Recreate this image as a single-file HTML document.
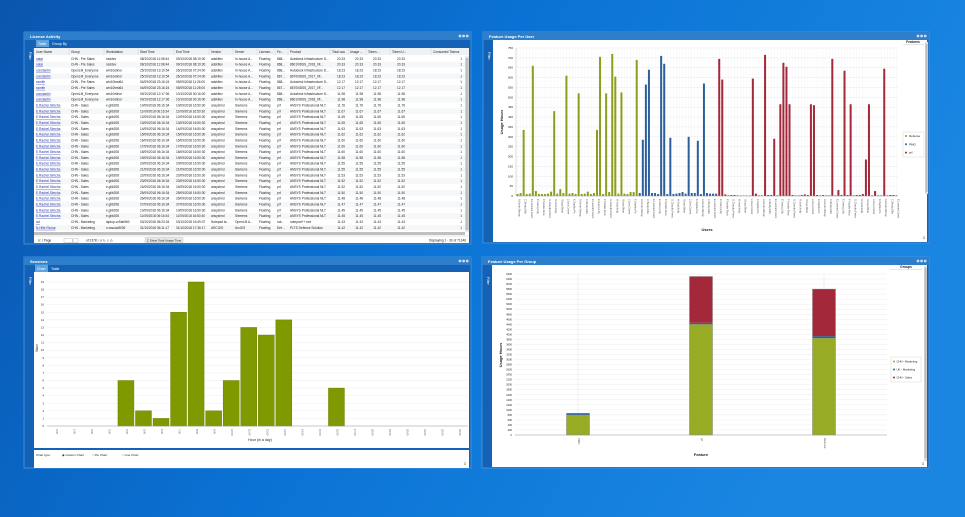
<!DOCTYPE html>
<html><head><meta charset="utf-8"><style>
html,body{margin:0;padding:0;width:965px;height:517px;overflow:hidden;background:#0a6fd0}
svg{display:block}
text{font-family:"Liberation Sans",sans-serif}
</style></head><body>
<svg id="s" xmlns="http://www.w3.org/2000/svg" width="965" height="517" viewBox="0 0 965 517">
<defs>
<linearGradient id="bg" x1="0" y1="0" x2="1" y2="0.3">
<stop offset="0" stop-color="#0a55ae"/><stop offset="0.5" stop-color="#0a72d4"/><stop offset="1" stop-color="#1a86e2"/>
</linearGradient>
</defs>
<rect width="965" height="517" fill="url(#bg)"/>
<g id="g"></g>
</svg>
<script>
const NS='http://www.w3.org/2000/svg';const G=document.getElementById('g');
function e(t,a,txt){const n=document.createElementNS(NS,t);for(const k in a)n.setAttribute(k,a[k]);if(txt!==undefined)n.textContent=txt;G.appendChild(n);return n;}
function R(x,y,w,h,f,extra){return e('rect',Object.assign({x,y,width:w,height:h,fill:f},extra||{}));}
function T(x,y,s,txt,o){return e('text',Object.assign({x,y,'font-size':s,fill:'#222'},o||{}),txt);}
function L(x1,y1,x2,y2,c,w){return e('line',{x1,y1,x2,y2,stroke:c,'stroke-width':w||0.5});}
function panel(x,y,w,h,title){
 R(x,y,w,h,'#1462b6',{stroke:'#4a98dc','stroke-width':0.8});
 R(x,y,w,8,'#2d7fcc');
 T(x+6,y+5.8,4,title,{fill:'#fff','font-weight':'bold'});
 for(let i=0;i<3;i++)e('circle',{cx:x+w-11+i*3.6,cy:y+4,r:1.4,fill:'#c8dcf0'});
 T(x+5,y+20,3.5,'Filter',{fill:'#fff',transform:`rotate(90 ${x+5} ${y+20})`});
}
// Panel 1
panel(24,32,447,212,'License Activity');
R(36,40,13,7,'#5fa3e0');T(38,45,3.5,'Table',{fill:'#fff'});T(52,45,3.5,'Group By',{fill:'#fff'});
R(34,48,435,188,'#fff');R(34,236,435,7,'#fff');
R(34,48,435,7,'#eef1f5');
const cols=[35,70,105,139,175,210,234,258,276,289,331,349,367,391,432];
const hdr=['User Name','Group','Workstation','Start Time','End Time','Vendor','Server','License...','Fe...','Product','Total usa','Usage ...','Token ...','Token U...','Consumed Tokens'];
hdr.forEach((h,i)=>{T(cols[i]+1,53,3.2,h);L(cols[i]-1,48,cols[i]-1,55,'#ccc',0.4)});
const rows=[
['natal','CHN - Pre Sales','nsddev','08/10/2018 11:08:44','09/10/2018 08:19:30','adskflex','In-house A...','Floating','868...','Autodesk Infrastructure D...','20.33'],
['natal','CHN - Pre Sales','nsddev','08/10/2018 11:08:44','09/10/2018 08:19:30','adskflex','In-house A...','Floating','868...','86010IDSS_2018_0F...','20.33'],
['constantin','OpenLM_Everyone','win10elinor','25/10/2018 13:10:54','26/10/2018 07:24:00','adskflex','In-house A...','Floating','868...','Autodesk Infrastructure D...','18.23'],
['constantin','OpenLM_Everyone','win10elinor','25/10/2018 13:10:54','26/10/2018 07:24:00','adskflex','In-house A...','Floating','867...','86700IDSS_2017_0F...','18.23'],
['ssmith','CHN - Pre Sales','win10test64','04/09/2018 23:16:24','05/09/2018 11:26:00','adskflex','In-house A...','Floating','868...','Autodesk Infrastructure D...','12.17'],
['ssmith','CHN - Pre Sales','win10test64','04/09/2018 23:16:24','05/09/2018 11:26:00','adskflex','In-house A...','Floating','867...','86700IDSS_2017_0F...','12.17'],
['constantin','OpenLM_Everyone','win10elinor','09/10/2018 12:17:06','10/10/2018 00:16:00','adskflex','In-house A...','Floating','868...','Autodesk Infrastructure D...','11.98'],
['constantin','OpenLM_Everyone','win10elinor','09/10/2018 12:17:06','10/10/2018 00:16:00','adskflex','In-house A...','Floating','868...','86010IDSS_2018_0F...','11.98']];
const vals=['11.76','11.67','11.65','11.65','11.63','11.62','11.60','11.60','11.60','11.58','11.55','11.55','11.53','11.52','11.52','11.50','11.48','11.47','11.45','11.45'];
vals.forEach((v,i)=>rows.push(['E.Rachel.Simcha','CHN - Sales','e.glib208',(10+i%18)+'/09/2018 06:16:34',(10+i%18)+'/09/2018 16:50:30','ansyslmd','Siemens','Floating','prf','ANSYS Professional NLT',v]));
rows.push(['avi','CHN - Marketing','laptop-vc5ab560','03/10/2018 06:23:34','03/10/2018 16:49:37','Notepad la...','OpenLM A...','Floating','not...','notepad++.exe','11.43']);
rows.push(['N.Hilfe.Richar','CHN - Marketing','n.wsusw8005','31/10/2018 06:11:17','31/10/2018 17:36:17','ARCGIS','ArcGIS','Floating','Def...','PLTS Defense Solution','11.42']);
rows.forEach((r,i)=>{const y=59.8+i*5.83;
 if(i%2)R(34,y-4,431,5.83,'#f6f7f9');
 for(let c=0;c<10;c++)T(cols[c]+1,y,3.2,r[c],c==0?{fill:'#2233aa','text-decoration':'underline'}:{});
 for(let c=10;c<14;c++)T(cols[c]+14,y,3.2,r[10],{'text-anchor':'end'});
 T(462,y,3.2,'1',{'text-anchor':'end'});
});
R(465,56,4,176,'#e8e8e8');R(465.5,58,3,172,'#c0c0c0');R(34,232,431,3,'#c0c0c0');
L(34,236,469,236,'#ccc');
T(38,241.5,3.3,'⟨⟨  ⟨   Page');R(64,238.5,14,4,'#fff',{stroke:'#aaa','stroke-width':0.4});T(72,241.5,3,'1');
T(86,241.5,3.2,'of 2378    ⟩  ⟩⟩   ↻   ⇩  ⎙');R(145,237.5,38,5,'#e6e6e6',{stroke:'#aaa','stroke-width':0.3});T(147,241.5,3,'Σ Show Total Usage Time');
T(466,241.5,3.2,'Displaying 1 - 30 of 71346',{'text-anchor':'end'});

// Panel 2
panel(483,32,446,211,'Feature Usage Per User');
R(493,40,434,202,'#fff');
const px0=516,px1=898,py0=196,py1=48;
for(let v=0;v<=750;v+=50){const y=py0-(v/750)*(py0-py1);L(px0,y,px1,y,'#e4e4e4',0.4);T(513,y+1,3,v,{'text-anchor':'end'});}
const gv=[10,15,335,10,12,660,25,10,10,10,12,22,430,12,35,15,610,12,15,10,520,10,12,22,10,15,335,705,10,520,20,720,605,12,525,12,10,20,20,690];
const bv=[15,285,565,640,15,15,10,710,670,10,295,10,12,15,20,12,300,15,15,280,10,570,15,12,12,12];
const rv=[695,590,8,3,5,5,3,2,2,2,2,595,12,3,3,715,5,5,290,3,465,675,655,465,5,3,3,5,8,5,465,460,5,3,5,3,3,695,3,30,5,635,5,465,3,5,5,10,185,465,3,25,3,3,645,3,5,5,3];
const all=gv.map(v=>[v,'#8c9c1c']).concat(bv.map(v=>[v,'#2b5f9c'])).concat(rv.map(v=>[v,'#a3283a']));
const sp=(px1-px0)/all.length;
const nm=['A.Kevin.Murray','C.Becky.Ellis','E.Leonard.Grant','E.Nancy.Lilly','F.Natalie.Ross','G.Claudia.Perez','H.Noel.Kelly','I.Kaye.Brian','J.Lisa.Corner','K.Sophia.Pe'];
all.forEach((b,i)=>{const x=px0+sp*i+sp/2;L(x,py1,x,py0,'#f0f0f0',0.3);
 const h=b[0]/750*(py0-py1);R(x-1,py0-h,2,h,b[1]);
 if(i%2==0)T(x+1,199,2.6,nm[(i/2)%10],{fill:'#555',transform:`rotate(90 ${x+1} 199)`});});
L(px0,py0,px1,py0,'#999',0.6);L(px0,py1,px0,py0,'#bbb',0.5);
T(707,231,4,'Users',{'font-weight':'bold','text-anchor':'middle'});
T(503,122,4,'Usage Hours',{'font-weight':'bold','text-anchor':'middle',transform:'rotate(-90 503 122)'});
T(913,43,3.3,'Features',{'font-weight':'bold','text-anchor':'middle'});L(903,44.5,924,44.5,'#ccc');
R(903,132,21,25,'#fff',{stroke:'#ccc','stroke-width':0.4});
[['Defense','#8c9c1c'],['PMG','#2b5f9c'],['prf','#a3283a']].forEach((l,i)=>{e('circle',{cx:906,cy:136+i*8.3,r:1,fill:l[1]});T(909,137+i*8.3,3,l[0]);});
R(925,42,3,152,'#ddd');R(925.5,44,2,148,'#bbb');
T(924,239,4,'⇩',{'text-anchor':'middle'});

// Panel 3
panel(24,257,447,211,'Sessions');
R(35,264.5,13,7.5,'#5fa3e0');T(37,270,3.5,'Chart',{fill:'#fff'});T(51,270,3.5,'Table',{fill:'#fff'});
R(34,272,435,176,'#fff');R(34,450,435,18,'#fff');
const qx0=47,qx1=468,qy0=426,qy1=282;
for(let v=0;v<=19;v++){const y=qy0-v/19*(qy0-qy1);L(qx0,y,qx1,y,'#ececec',0.5);T(44,y+1,2.8,v,{'text-anchor':'end'});}
const hv=[0,0,0,0,6,2,1,15,19,2,6,13,12,14,0,0,5,0,0,0,0,0,0,0];const hs=(qx1-qx0)/24;
hv.forEach((v,i)=>{const x=qx0+hs*i;const h=v/19*(qy0-qy1);if(v)R(x+0.8,qy0-h,hs-1.6,h,'#7f9a00',{stroke:'#6a8200','stroke-width':0.5});
 T(x+hs/2,429,2.6,i+':00',{fill:'#555',transform:`rotate(90 ${x+hs/2} 429)`});});
L(qx0,qy0,qx1,qy0,'#999',0.6);
T(260,441,3.6,'Hour (in a day)',{'text-anchor':'middle'});
T(38,352,3.2,'Value',{transform:'rotate(-90 38 352)'});
T(36,456,3,'Chart type:');T(62,456,3,'◉ Column Chart');T(92,456,3,'○ Pie Chart');T(122,456,3,'○ Line Chart');
T(465,465,4,'⇩',{'text-anchor':'middle'});

// Panel 4
panel(482,257,447,211,'Feature Usage Per Group');
R(492,265,435,202,'#fff');
const rx0=515,rx1=887,ry0=435,ry1=274;
for(let v=0;v<=6400;v+=200){const y=ry0-v/6400*(ry0-ry1);L(rx0,y,rx1,y,'#e8e8e8',0.4);T(512,y+1,2.6,v,{'text-anchor':'end'});}
const cats=[[578,800,60,0,'PMG'],[701,4400,60,1840,'prf'],[824,3850,80,1870,'Defense']];
cats.forEach(c=>{L(c[0],ry1,c[0],ry0,'#e0e0e0',0.5);const k=(ry0-ry1)/6400;let y=ry0;
 [[c[1],'#98ab24'],[c[2],'#2b5f9c'],[c[3],'#a3283a']].forEach(s=>{const h=s[0]*k;if(h>0){R(c[0]-11.5,y-h,23,h,s[1]);y-=h;}});
 R(c[0]-11.5,y,23,ry0-y,'none',{stroke:'#777','stroke-width':0.4});
 T(c[0],438,2.8,c[4],{fill:'#555',transform:`rotate(90 ${c[0]} 438)`});});
L(rx0,ry0,rx1,ry0,'#999',0.6);
T(701,456,4,'Feature',{'font-weight':'bold','text-anchor':'middle'});
T(502,355,4,'Usage Hours',{'font-weight':'bold','text-anchor':'middle',transform:'rotate(-90 502 355)'});
T(906,268,3.3,'Groups',{'font-weight':'bold','text-anchor':'middle'});L(890,269.5,922,269.5,'#ccc');
R(891,357,30,25,'#fff',{stroke:'#ccc','stroke-width':0.4});
[['CHN - Marketing','#98ab24'],['UK - Marketing','#2b5f9c'],['CHN - Sales','#a3283a']].forEach((l,i)=>{e('circle',{cx:894,cy:361.5+i*8,r:1,fill:l[1]});T(896.5,362.5+i*8,2.8,l[0]);});
R(924,266,3,195,'#ddd');R(924.5,268,2,190,'#bbb');
T(923,465,4,'⇩',{'text-anchor':'middle'});
</script>
</body></html>
